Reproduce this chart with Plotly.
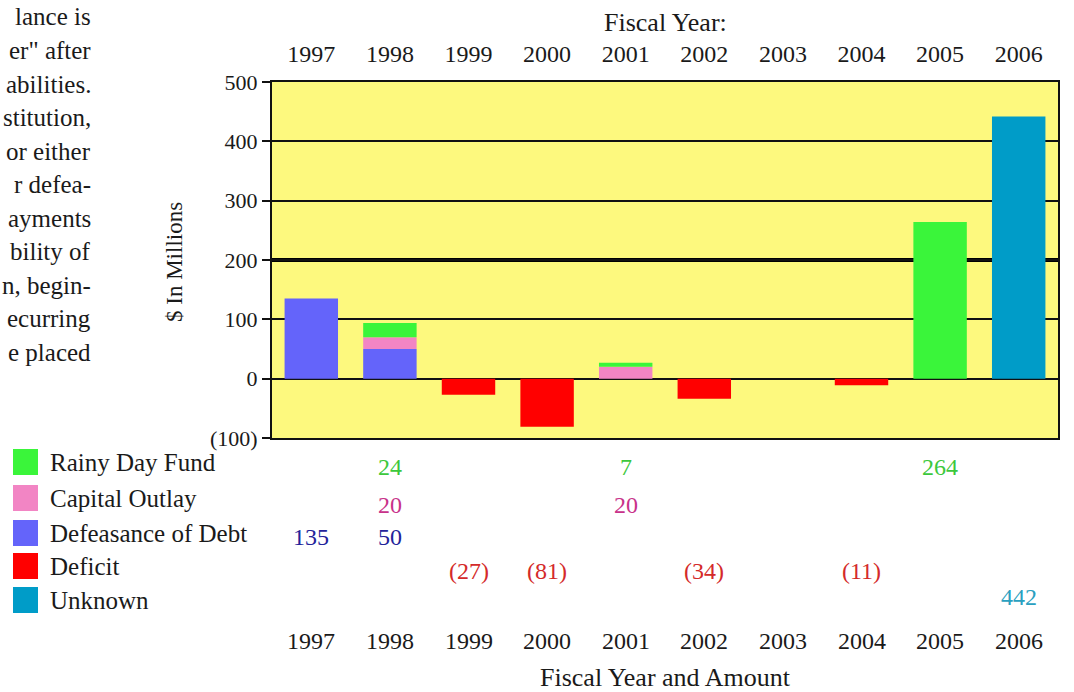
import plotly.graph_objects as go

# ---------------- data ----------------
years = ["1997", "1998", "1999", "2000", "2001", "2002", "2003", "2004", "2005", "2006"]
rainy_day_fund = [None, 24, None, None, 7, None, None, None, 264, None]
capital_outlay = [None, 20, None, None, 20, None, None, None, None, None]
defeasance_of_debt = [135, 50, None, None, None, None, None, None, None, None]
deficit = [None, None, -27, -81, None, -34, None, -11, None, None]
unknown = [None, None, None, None, None, None, None, None, None, 442]

y_tick_vals = [-100, 0, 100, 200, 300, 400, 500]
y_tick_text = ["(100)", "0", "100", "200", "300", "400", "500"]
heavy_gridline = 200

side_text = ["lance is", "er\" after", "abilities.", "stitution,", "or either",
             "r defea-", "ayments", "bility of", "n, begin-", "ecurring", "e placed"]

# ---------------- styling ----------------
FONT = "Liberation Serif"
TXT = "#1a1a1a"
W, H = 1074, 692
ML, MR, MT, MB = 272, 16, 82, 254
PW, PH = W - ML - MR, H - MT - MB


def px_x(px):
    return (px - ML) / PW


def px_y(py):
    return (MT + PH - py) / PH


# series in stacking order (bottom to top)
series = [
    dict(name="Defeasance of Debt", vals=defeasance_of_debt, color="#6464FA", lab="#23239a", rank=3, row=537, lrow=533),
    dict(name="Capital Outlay", vals=capital_outlay, color="#F285C4", lab="#c8328a", rank=2, row=505, lrow=498),
    dict(name="Rainy Day Fund", vals=rainy_day_fund, color="#3AF53A", lab="#3cc83c", rank=1, row=467, lrow=462),
    dict(name="Deficit", vals=deficit, color="#FF0000", lab="#d42a2a", rank=4, row=571, lrow=566),
    dict(name="Unknown", vals=unknown, color="#009CC8", lab="#2aa0c0", rank=5, row=597, lrow=600),
]

fig = go.Figure()
for s in series:
    fig.add_trace(go.Bar(x=years, y=s["vals"], name=s["name"], marker_color=s["color"],
                         marker_line_width=0, width=0.68, showlegend=False))

annotations = []
shapes = []

# heavier gridline at 200
shapes.append(dict(type="line", xref="paper", yref="y", x0=0, x1=1, y0=heavy_gridline, y1=heavy_gridline,
                   line=dict(color="#000", width=4), layer="below"))

# value table under the chart (x given as category index)
for s in series:
    for i, v in enumerate(s["vals"]):
        if v is None:
            continue
        txt = f"({abs(v)})" if v < 0 else f"{v}"
        annotations.append(dict(x=i, xref="x", y=px_y(s["row"]), yref="paper", text=txt,
                                showarrow=False, font=dict(family=FONT, size=24, color=s["lab"]),
                                xanchor="center", yanchor="middle"))

# custom legend (large squares)
for s in sorted(series, key=lambda d: d["rank"]):
    c = s["lrow"]
    shapes.append(dict(type="rect", xref="paper", yref="paper",
                       x0=px_x(13), x1=px_x(38), y0=px_y(c + 13), y1=px_y(c - 13),
                       fillcolor=s["color"], line_width=0))
    annotations.append(dict(x=px_x(48), xref="paper", y=px_y(c), yref="paper", text=s["name"],
                            showarrow=False, font=dict(family=FONT, size=25, color=TXT),
                            xanchor="left", yanchor="middle"))

# bottom years row and title
for i, yr in enumerate(years):
    annotations.append(dict(x=i, xref="x", y=px_y(641), yref="paper", text=yr, showarrow=False,
                            font=dict(family=FONT, size=24, color=TXT), xanchor="center", yanchor="middle"))
annotations.append(dict(x=0.5, xref="paper", y=px_y(677), yref="paper", text="Fiscal Year and Amount",
                        showarrow=False, font=dict(family=FONT, size=26, color=TXT),
                        xanchor="center", yanchor="middle"))

# top title
annotations.append(dict(x=0.5, xref="paper", y=px_y(22), yref="paper", text="Fiscal Year:",
                        showarrow=False, font=dict(family=FONT, size=26, color=TXT),
                        xanchor="center", yanchor="middle"))
# y title
annotations.append(dict(x=px_x(174), xref="paper", y=px_y(262), yref="paper", text="$ In Millions",
                        textangle=-90, showarrow=False, font=dict(family=FONT, size=23, color=TXT),
                        xanchor="center", yanchor="middle"))

# clipped paragraph on the left
for i, line in enumerate(side_text):
    annotations.append(dict(x=px_x(93), xref="paper", y=px_y(17 + 33.5 * i), yref="paper", text=line,
                            showarrow=False, font=dict(family=FONT, size=25, color=TXT),
                            xanchor="right", yanchor="middle"))

fig.update_layout(
    width=W, height=H,
    margin=dict(l=ML, r=MR, t=MT, b=MB, autoexpand=False),
    paper_bgcolor="white",
    plot_bgcolor="#FDF97E",
    barmode="relative",
    showlegend=False,
    font=dict(family=FONT, size=21, color=TXT),
    annotations=annotations,
    shapes=shapes,
    xaxis=dict(
        type="category", side="top", automargin=False,
        range=[-0.5, 9.5],
        ticks="outside", ticklen=8, tickcolor="rgba(0,0,0,0)",
        tickfont=dict(family=FONT, size=24, color=TXT),
        showline=True, mirror=True, linecolor="#111", linewidth=2,
        showgrid=False, fixedrange=True,
    ),
    yaxis=dict(
        range=[-100, 500], automargin=False,
        tickvals=y_tick_vals, ticktext=y_tick_text,
        tickfont=dict(family=FONT, size=22, color=TXT),
        ticks="outside", ticklen=8, tickwidth=2, tickcolor="#111",
        showline=True, mirror=True, linecolor="#111", linewidth=2,
        showgrid=True, gridcolor="#111", gridwidth=2,
        zeroline=True, zerolinecolor="#111", zerolinewidth=2,
        fixedrange=True,
    ),
)

fig.write_html("out.html", config={"displayModeBar": False},
               post_script="document.body.style.margin='0px';")
